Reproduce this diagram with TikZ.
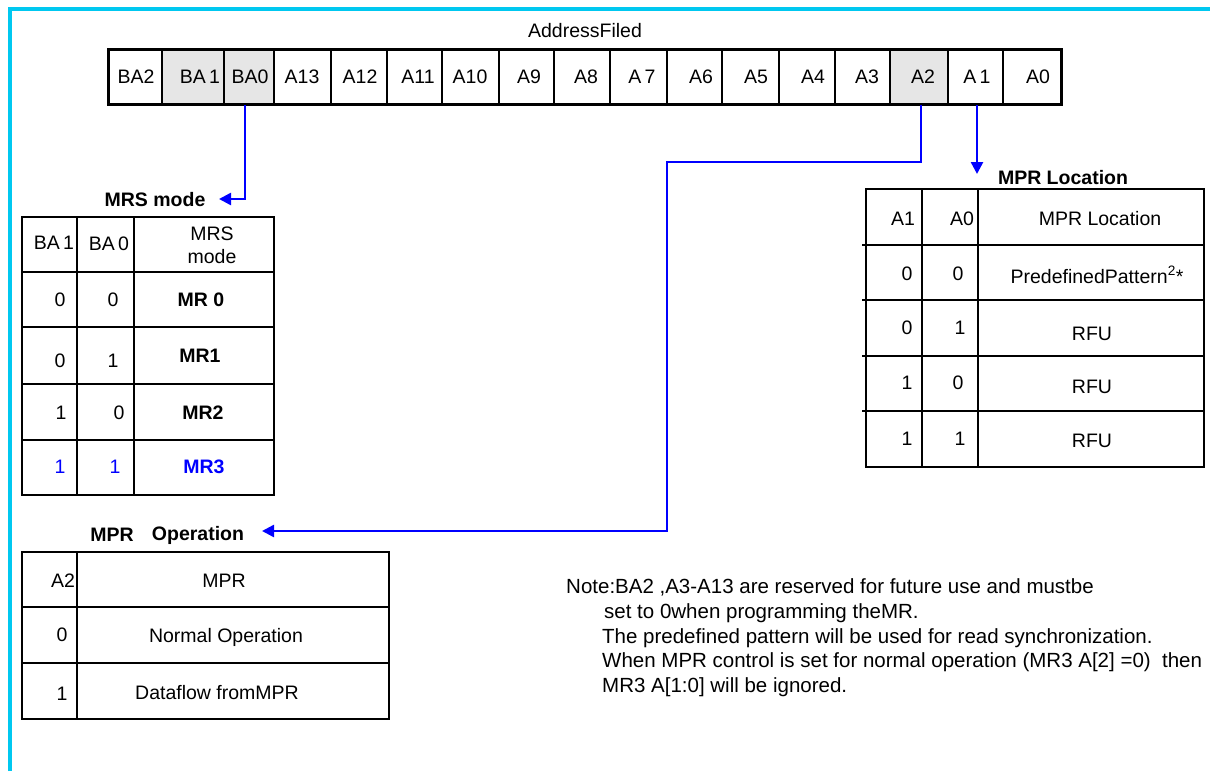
\documentclass[tikz,border=0pt]{standalone}
\usepackage{fontspec}
\setmainfont{Liberation Sans}
\usetikzlibrary{arrows.meta}
\definecolor{framecyan}{RGB}{0,200,240}
\definecolor{cellshade}{RGB}{230,230,230}
\definecolor{linkblue}{RGB}{0,0,255}
\begin{document}
\begin{tikzpicture}[x=1pt,y=-1pt,
  txt/.style={font=\fontsize{19.5}{22}\selectfont, inner sep=0pt, text height=14pt, text depth=0pt, anchor=center},
  btxt/.style={txt, font=\fontsize{19.5}{22}\selectfont\bfseries},
  notetxt/.style={font=\fontsize{20.5}{23}\selectfont, inner sep=0pt, anchor=base west},
  addrcell/.style={draw, line width=2pt, minimum height=55pt, inner sep=0pt},
  grid/.style={line width=2pt},
  link/.style={linkblue, line width=2.5pt, -{Triangle[length=12pt,width=12pt]}},
]
\useasboundingbox (0,0) rectangle (1210,771);
% frame
\draw[framecyan, line width=3.5pt] (10,771) -- (10,9) -- (1210,9);

% address field title
\node[txt] (addrtitle) at (585,30) {AddressFiled};

% address cells
\foreach \l/\r/\tx/\lab/\nm/\fl in {
  108/162/136/BA2/ba2/white,
  162/224/200/BA\,1/ba1/cellshade,
  224/274/250/BA0/ba0/cellshade,
  274/331/302/A13/a13/white,
  331/387/360/A12/a12/white,
  387/442/418/A11/a11/white,
  442/499/470/A10/a10/white,
  499/554/529/A9/a9/white,
  554/610/586/A8/a8/white,
  610/667/642/A\,7/a7/white,
  667/722/701/A6/a6/white,
  722/779/756/A5/a5/white,
  779/835/813/A4/a4/white,
  835/890/867/A3/a3/white,
  890/948/923/A2/a2/cellshade,
  948/1003/977/A\,1/a1/white,
  1003/1061/1038/A0/a0/white}{
  \pgfmathsetmacro{\w}{\r-\l}
  \pgfmathsetmacro{\c}{(\l+\r)/2}
  \node[addrcell, fill=\fl, minimum width=\w pt] (\nm) at (\c,76.5) {};
  \node[txt] (\nm-t) at (\tx,76) {\lab};
}
\draw[line width=3pt] (108,49) rectangle (1061,104);

% ---------- MRS mode table ----------
\node[btxt] (mrstitle) at (155,199) {MRS mode};
\draw[grid] (22,217) rectangle (274,495);
\foreach \yy in {272,327,384,440} \draw[grid] (22,\yy) -- (274,\yy);
\foreach \xx in {77,134} \draw[grid] (\xx,217) -- (\xx,495);
\node[txt] (m-h1) at (54,242) {BA\,1};
\node[txt] (m-h2) at (109,243) {BA\,0};
\node[txt] (m-h3a) at (212,233) {MRS};
\node[txt] (m-h3b) at (212,256) {mode};
\node[txt] (m-11) at (60,299) {0};
\node[txt] (m-12) at (113,299) {0};
\node[btxt] (m-13) at (201,299) {MR 0};
\node[txt] (m-21) at (60,360) {0};
\node[txt] (m-22) at (113,360) {1};
\node[btxt] (m-23) at (200,355) {MR1};
\node[txt] (m-31) at (61,412) {1};
\node[txt] (m-32) at (119,412) {0};
\node[btxt] (m-33) at (203,412) {MR2};
\node[txt, text=linkblue] (m-41) at (60,466) {1};
\node[txt, text=linkblue] (m-42) at (115,466) {1};
\node[btxt, text=linkblue] (m-43) at (204,466) {MR3};

% ---------- MPR Location table ----------
\node[btxt] (loctitle) at (1063,177) {MPR Location};
\draw[grid] (866,189) rectangle (1204,467);
\foreach \yy in {245,300,356,411} \draw[grid] (862,\yy) -- (1204,\yy);
\foreach \xx in {922,978} \draw[grid] (\xx,189) -- (\xx,467);
\node[txt] (l-h1) at (903,218) {A1};
\node[txt] (l-h2) at (962,218) {A0};
\node[txt] (l-h3) at (1100,218) {MPR Location};
\node[txt] (l-11) at (907,273) {0};
\node[txt] (l-12) at (958,273) {0};
\node[txt] (l-13) at (1097,276) {PredefinedPattern\textsuperscript{2}*};
\node[txt] (l-21) at (907,327) {0};
\node[txt] (l-22) at (960,327) {1};
\node[txt] (l-23) at (1092,333) {RFU};
\node[txt] (l-31) at (907,382) {1};
\node[txt] (l-32) at (958,382) {0};
\node[txt] (l-33) at (1092,386) {RFU};
\node[txt] (l-41) at (907,438) {1};
\node[txt] (l-42) at (960,438) {1};
\node[txt] (l-43) at (1092,440) {RFU};

% ---------- MPR Operation table ----------
\node[btxt] (optitle1) at (112,534) {MPR};
\node[btxt] (optitle) at (198,533) {Operation};
\draw[grid] (22,552) rectangle (389,719);
\foreach \yy in {607,663} \draw[grid] (22,\yy) -- (389,\yy);
\draw[grid] (77,552) -- (77,719);
\node[txt] (o-h1) at (63,580) {A2};
\node[txt] (o-h2) at (224,580) {MPR};
\node[txt] (o-11) at (62,634) {0};
\node[txt] (o-12) at (226,635) {Normal Operation};
\node[txt] (o-21) at (62,693) {1};
\node[txt] (o-22) at (217,692) {Dataflow fromMPR};

% ---------- connectors ----------
\coordinate (mrstip) at (219,199);
\coordinate (loctip) at (977,174);
\coordinate (bendA) at (667,162);
\coordinate (optip) at (262,531);
\draw[link] ([xshift=-4pt]ba0.south) |- (mrstip);
\draw[link] (a1.south -| loctip) -- (loctip);
\draw[link] ([xshift=2pt]a2.south) |- (bendA) |- (optip);

% ---------- note ----------
\node[notetxt] (note1) at (566,593) {Note:BA2 ,A3-A13 are reserved for future use and mustbe};
\node[notetxt] (note2) at (604,618) {set to 0when programming theMR.};
\node[notetxt] (note3) at (602,643) {The predefined pattern will be used for read synchronization.};
\node[notetxt] (note4) at (602,667) {When MPR control is set for normal operation (MR3 A[2] =0)\ \ then};
\node[notetxt] (note5) at (602,692) {MR3 A[1:0] will be ignored.};
\end{tikzpicture}
\end{document}
